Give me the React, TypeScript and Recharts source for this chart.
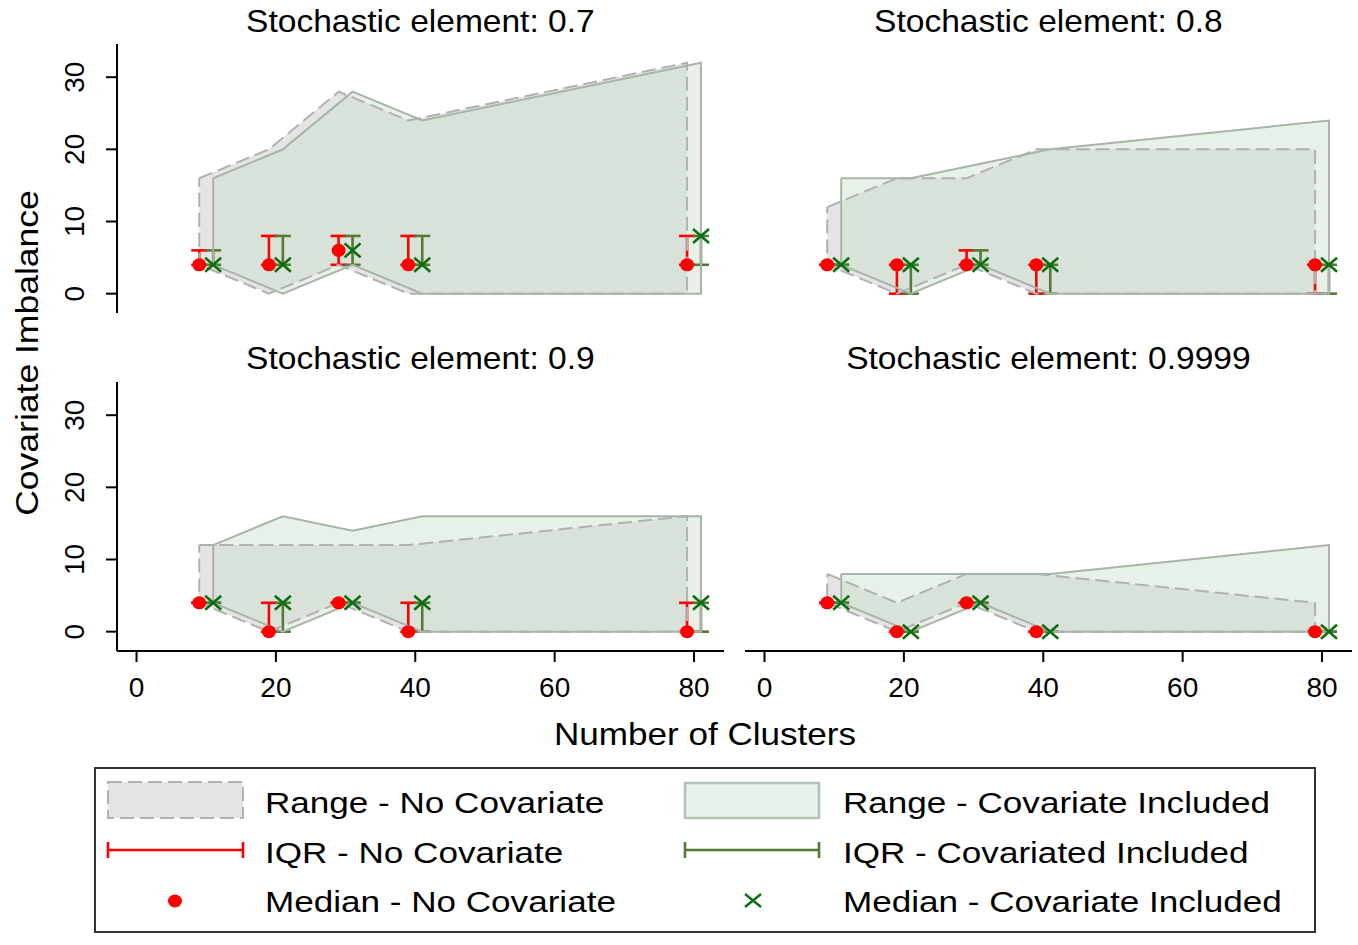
import React from 'react';
import { ComposedChart, Area, Scatter, ErrorBar, XAxis, YAxis } from 'recharts';

const FONT = '"Liberation Sans", Arial, Helvetica, sans-serif';

// cluster counts; "no covariate" series is drawn at c - 1, "covariate" at c + 1
const clusters = [10, 20, 30, 40, 80];
const xTicks = [0, 20, 40, 60, 80];
const yTicks = [0, 10, 20, 30];
const panelTitles = [
  'Stochastic element: 0.7',
  'Stochastic element: 0.8',
  'Stochastic element: 0.9',
  'Stochastic element: 0.9999',
];

// stochastic element 0.7
const ncMin07 = [4, 0, 4, 0, 0];
const ncMax07 = [16, 20, 28, 24, 32];
const cvMin07 = [4, 0, 4, 0, 0];
const cvMax07 = [16, 20, 28, 24, 32];
const ncQ1_07 = [4, 4, 4, 4, 4];
const ncQ3_07 = [6, 8, 8, 8, 8];
const ncMed07 = [4, 4, 6, 4, 4];
const cvQ1_07 = [4, 4, 4, 4, 4];
const cvQ3_07 = [6, 8, 8, 8, 8];
const cvMed07 = [4, 4, 6, 4, 8];

// stochastic element 0.8
const ncMin08 = [4, 0, 4, 0, 0];
const ncMax08 = [12, 16, 16, 20, 20];
const cvMin08 = [4, 0, 4, 0, 0];
const cvMax08 = [16, 16, 18, 20, 24];
const ncQ1_08 = [4, 0, 4, 0, 0];
const ncQ3_08 = [4, 4, 6, 4, 4];
const ncMed08 = [4, 4, 4, 4, 4];
const cvQ1_08 = [4, 0, 4, 0, 0];
const cvQ3_08 = [4, 4, 6, 4, 4];
const cvMed08 = [4, 4, 4, 4, 4];

// stochastic element 0.9
const ncMin09 = [4, 0, 4, 0, 0];
const ncMax09 = [12, 12, 12, 12, 16];
const cvMin09 = [4, 0, 4, 0, 0];
const cvMax09 = [12, 16, 14, 16, 16];
const ncQ1_09 = [4, 0, 4, 0, 0];
const ncQ3_09 = [4, 4, 4, 4, 4];
const ncMed09 = [4, 0, 4, 0, 0];
const cvQ1_09 = [4, 0, 4, 0, 0];
const cvQ3_09 = [4, 4, 4, 4, 4];
const cvMed09 = [4, 4, 4, 4, 4];

// stochastic element 0.9999
const ncMin9999 = [4, 0, 4, 0, 0];
const ncMax9999 = [8, 4, 8, 8, 4];
const cvMin9999 = [4, 0, 4, 0, 0];
const cvMax9999 = [8, 8, 8, 8, 12];
const ncQ1_9999 = [4, 0, 4, 0, 0];
const ncQ3_9999 = [4, 0, 4, 0, 0];
const ncMed9999 = [4, 0, 4, 0, 0];
const cvQ1_9999 = [4, 0, 4, 0, 0];
const cvQ3_9999 = [4, 0, 4, 0, 0];
const cvMed9999 = [4, 0, 4, 0, 0];

const X_DOMAIN = [-2.8, 84.3];
const Y_DOMAIN = [-2.68, 34.6];
const PLOT_W = 607;
const PLOT_H = 269;
const Y_AXIS_W = 60;
const X_AXIS_H = 60;

const RED = '#ff0000';
const IQR_GREEN = '#557a35';
const MED_GREEN = '#0d6e12';

function buildPanel(s) {
  const ncX = clusters.map((c) => c - 1);
  const cvX = clusters.map((c) => c + 1);
  const areaRows = clusters.flatMap((c, i) => [
    { x: ncX[i], nc: [s.ncMin[i], s.ncMax[i]] },
    { x: cvX[i], cv: [s.cvMin[i], s.cvMax[i]] },
  ]);
  const outline = (xs, lo, hi) => [
    ...xs.map((x, i) => ({ x, y: hi[i] })),
    ...xs.map((x, i) => ({ x, y: lo[i] })).reverse(),
    { x: xs[0], y: hi[0] },
  ];
  const medians = (xs, med, q1, q3) =>
    xs.map((x, i) => ({ x, y: med[i], err: [med[i] - q1[i], q3[i] - med[i]] }));
  return {
    areaRows,
    ncOutline: outline(ncX, s.ncMin, s.ncMax),
    cvOutline: outline(cvX, s.cvMin, s.cvMax),
    ncMed: medians(ncX, s.ncMed, s.ncQ1, s.ncQ3),
    cvMed: medians(cvX, s.cvMed, s.cvQ1, s.cvQ3),
  };
}

const panels = [
  buildPanel({ ncMin: ncMin07, ncMax: ncMax07, cvMin: cvMin07, cvMax: cvMax07, ncQ1: ncQ1_07, ncQ3: ncQ3_07, ncMed: ncMed07, cvQ1: cvQ1_07, cvQ3: cvQ3_07, cvMed: cvMed07 }),
  buildPanel({ ncMin: ncMin08, ncMax: ncMax08, cvMin: cvMin08, cvMax: cvMax08, ncQ1: ncQ1_08, ncQ3: ncQ3_08, ncMed: ncMed08, cvQ1: cvQ1_08, cvQ3: cvQ3_08, cvMed: cvMed08 }),
  buildPanel({ ncMin: ncMin09, ncMax: ncMax09, cvMin: cvMin09, cvMax: cvMax09, ncQ1: ncQ1_09, ncQ3: ncQ3_09, ncMed: ncMed09, cvQ1: cvQ1_09, cvQ3: cvQ3_09, cvMed: cvMed09 }),
  buildPanel({ ncMin: ncMin9999, ncMax: ncMax9999, cvMin: cvMin9999, cvMax: cvMax9999, ncQ1: ncQ1_9999, ncQ3: ncQ3_9999, ncMed: ncMed9999, cvQ1: cvQ1_9999, cvQ3: cvQ3_9999, cvMed: cvMed9999 }),
];

// plot-area placement on the page
const PLOT_LEFT = [116.9, 744.9];
const PLOT_TOP = [43.5, 382];

function RedDot(props) {
  const { cx, cy } = props;
  if (cx == null || cy == null) return <g />;
  return <ellipse cx={cx} cy={cy} rx={7} ry={6.5} fill={RED} />;
}

function GreenCross(props) {
  const { cx, cy } = props;
  if (cx == null || cy == null) return <g />;
  return (
    <g stroke={MED_GREEN} strokeWidth={2.6}>
      <line x1={cx - 8} y1={cy - 7} x2={cx + 8} y2={cy + 7} />
      <line x1={cx - 8} y1={cy + 7} x2={cx + 8} y2={cy - 7} />
    </g>
  );
}

function NoShape() {
  return <g />;
}

function RotatedYTick(props) {
  const { x, y, payload } = props;
  return (
    <text
      x={x}
      y={y}
      transform={`rotate(-90 ${x} ${y})`}
      textAnchor="middle"
      fontSize={28}
      fontFamily={FONT}
      fill="#000"
    >
      {payload.value}
    </text>
  );
}

function Panel({ idx }) {
  const col = idx % 2;
  const row = Math.floor(idx / 2);
  const showY = col === 0;
  const showX = row === 1;
  const p = panels[idx];
  const w = PLOT_W + (showY ? Y_AXIS_W : 0);
  const h = PLOT_H + (showX ? X_AXIS_H : 0);
  const left = PLOT_LEFT[col] - (showY ? Y_AXIS_W : 0);
  const top = PLOT_TOP[row];
  const axisStroke = { stroke: '#000', strokeWidth: 2 };

  return (
    <div style={{ position: 'absolute', left, top, width: w, height: h }}>
      <ComposedChart width={w} height={h} data={p.areaRows} margin={{ top: 0, right: 0, bottom: 0, left: 0 }}>
        <XAxis
          dataKey="x"
          type="number"
          domain={X_DOMAIN}
          allowDataOverflow
          ticks={xTicks}
          interval={0}
          hide={!showX}
          height={X_AXIS_H}
          axisLine={axisStroke}
          tickLine={axisStroke}
          tickSize={11}
          tickMargin={15}
          tick={{ fill: '#000', fontSize: 28, fontFamily: FONT }}
        />
        <YAxis
          type="number"
          domain={Y_DOMAIN}
          allowDataOverflow
          ticks={yTicks}
          interval={0}
          hide={!showY}
          width={Y_AXIS_W}
          axisLine={axisStroke}
          tickLine={axisStroke}
          tickSize={11}
          tickMargin={22}
          tick={<RotatedYTick />}
        />
        <Area
          dataKey="nc"
          type="linear"
          connectNulls
          stroke="none"
          fill="#e4e4e4"
          fillOpacity={1}
          dot={false}
          activeDot={false}
          isAnimationActive={false}
        />
        <Scatter
          data={p.ncOutline}
          dataKey="y"
          shape={<NoShape />}
          line={{ stroke: '#b1b1b1', strokeWidth: 2, strokeDasharray: '14 6' }}
          lineType="joint"
          isAnimationActive={false}
        />
        <Area
          dataKey="cv"
          type="linear"
          connectNulls
          stroke="none"
          fill="#cde1cd"
          fillOpacity={0.45}
          dot={false}
          activeDot={false}
          isAnimationActive={false}
        />
        <Scatter
          data={p.cvOutline}
          dataKey="y"
          shape={<NoShape />}
          line={{ stroke: '#a9b3a9', strokeWidth: 2 }}
          lineType="joint"
          isAnimationActive={false}
        />
        <Scatter data={p.ncMed} dataKey="y" shape={<RedDot />} isAnimationActive={false}>
          <ErrorBar dataKey="err" direction="y" width={8} stroke={RED} strokeWidth={2.6} />
        </Scatter>
        <Scatter data={p.cvMed} dataKey="y" shape={<GreenCross />} isAnimationActive={false}>
          <ErrorBar dataKey="err" direction="y" width={8} stroke={IQR_GREEN} strokeWidth={2.6} />
        </Scatter>
      </ComposedChart>
    </div>
  );
}

function Txt({ x, y, size, sx = 1, rotate = 0, anchor = 'start', children }) {
  return (
    <text
      transform={`translate(${x} ${y}) rotate(${rotate}) scale(${sx} 1)`}
      textAnchor={anchor}
      fontSize={size}
      fontFamily={FONT}
      fill="#000"
    >
      {children}
    </text>
  );
}

function Overlay() {
  const centers = PLOT_LEFT.map((l) => l + PLOT_W / 2);
  const titleBase = [32, 369];
  return (
    <svg width={1358} height={945} style={{ position: 'absolute', left: 0, top: 0, pointerEvents: 'none' }}>
      {panelTitles.map((t, i) => (
        <Txt key={t} x={centers[i % 2]} y={titleBase[Math.floor(i / 2)]} size={30.5} sx={1.1} anchor="middle">
          {t}
        </Txt>
      ))}
      <Txt x={705} y={745} size={30.5} sx={1.15} anchor="middle">Number of Clusters</Txt>
      <Txt x={38} y={353} size={32} sx={1.11} rotate={-90} anchor="middle">Covariate Imbalance</Txt>

      {/* legend */}
      <rect x={95} y={768} width={1220} height={164} fill="#fff" stroke="#333" strokeWidth={2} />
      <rect x={108} y={782} width={135} height={36} fill="#e4e4e4" stroke="#b1b1b1" strokeWidth={2} strokeDasharray="14 6" />
      <rect x={685} y={783} width={134} height={35} fill="#e8f1e8" stroke="#b6c1b6" strokeWidth={2.5} />
      <g stroke={RED} strokeWidth={2.6}>
        <line x1={108} y1={850} x2={243} y2={850} />
        <line x1={108} y1={842} x2={108} y2={858} />
        <line x1={243} y1={842} x2={243} y2={858} />
      </g>
      <g stroke={IQR_GREEN} strokeWidth={2.6}>
        <line x1={685} y1={850} x2={819} y2={850} />
        <line x1={685} y1={842} x2={685} y2={858} />
        <line x1={819} y1={842} x2={819} y2={858} />
      </g>
      <ellipse cx={175} cy={901} rx={7} ry={6.5} fill={RED} />
      <g stroke={MED_GREEN} strokeWidth={2.4}>
        <line x1={745} y1={894} x2={761} y2={907} />
        <line x1={745} y1={907} x2={761} y2={894} />
      </g>
      <Txt x={265} y={813} size={30} sx={1.17}>Range - No Covariate</Txt>
      <Txt x={265} y={863} size={30} sx={1.17}>IQR - No Covariate</Txt>
      <Txt x={265} y={912} size={30} sx={1.17}>Median - No Covariate</Txt>
      <Txt x={843} y={813} size={30} sx={1.17}>Range - Covariate Included</Txt>
      <Txt x={843} y={863} size={30} sx={1.17}>IQR - Covariated Included</Txt>
      <Txt x={843} y={912} size={30} sx={1.17}>Median - Covariate Included</Txt>
    </svg>
  );
}

export default function App() {
  return (
    <div
      style={{
        position: 'absolute',
        left: 0,
        top: 0,
        width: 1358,
        height: 945,
        background: '#fff',
        fontFamily: FONT,
        overflow: 'hidden',
      }}
    >
      {[0, 1, 2, 3].map((i) => (
        <Panel key={i} idx={i} />
      ))}
      <Overlay />
    </div>
  );
}
